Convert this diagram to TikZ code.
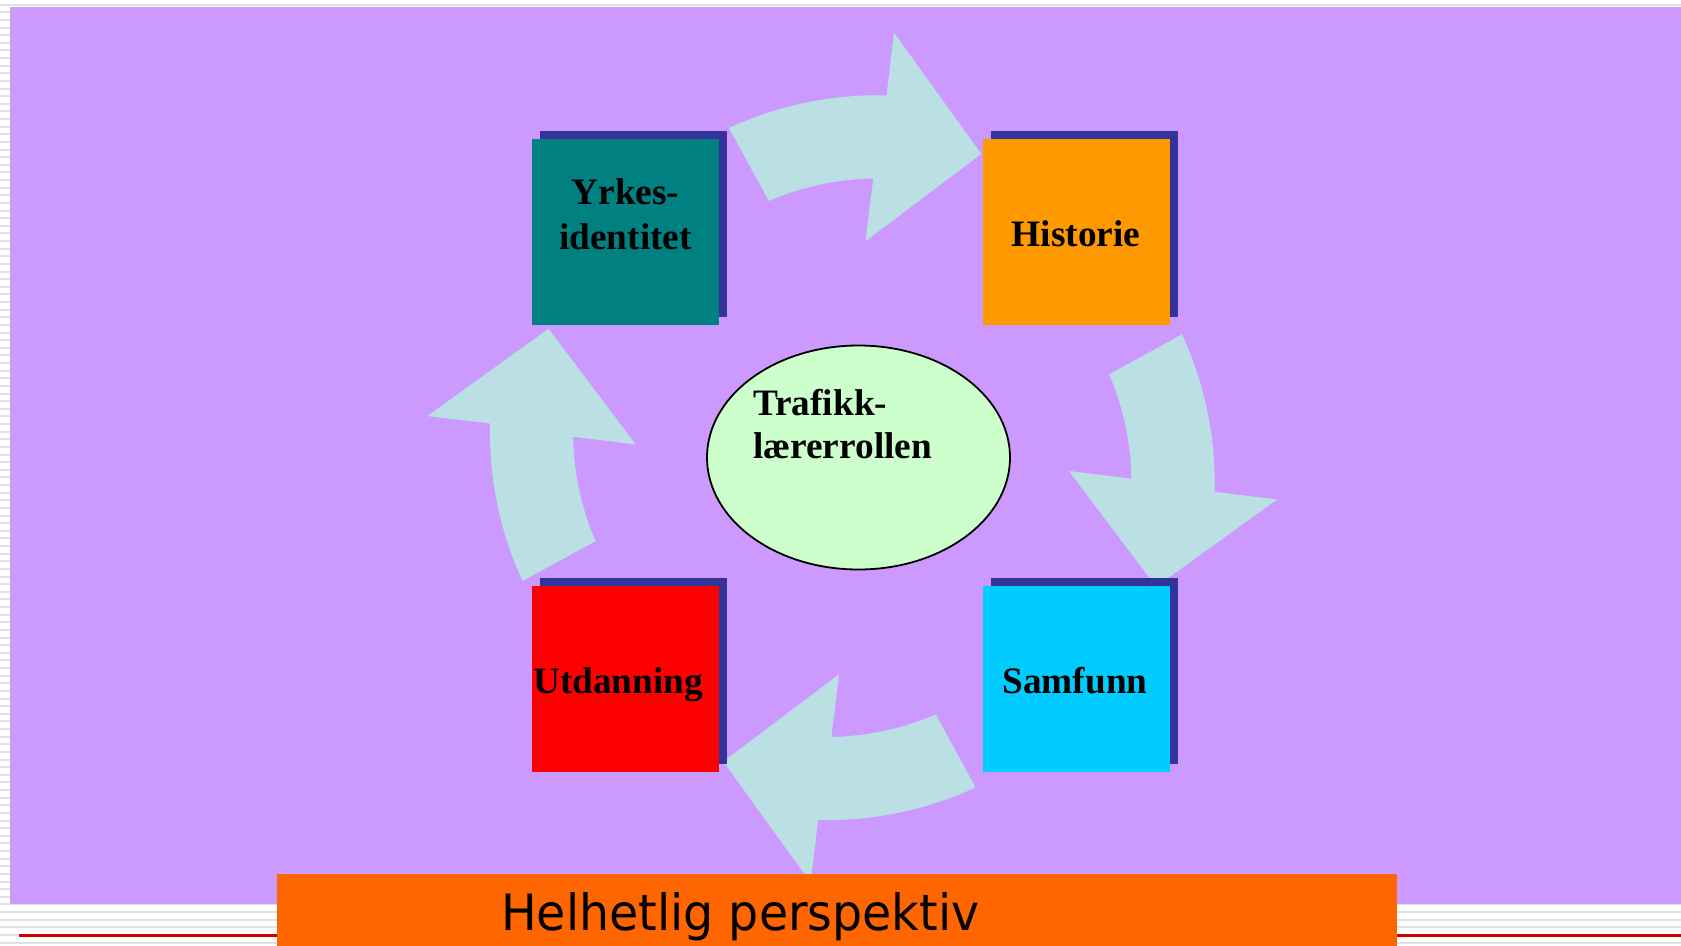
\documentclass[tikz,border=0pt]{standalone}
\usepackage{fontspec}
\usepackage{graphicx}
\setmainfont{Liberation Serif}
\newfontfamily\helfont{DejaVu Sans}
\usetikzlibrary{shapes.geometric, shadows}

\definecolor{lilla}{HTML}{CC99FF}
\definecolor{pilblaa}{HTML}{BBE0E3}
\definecolor{skygge}{HTML}{333399}
\definecolor{blaagronn}{HTML}{008080}
\definecolor{gul}{HTML}{FF9900}
\definecolor{cyanblaa}{HTML}{00CCFF}
\definecolor{lysgronn}{HTML}{CCFFCC}
\definecolor{oransje}{HTML}{FF6600}
\definecolor{stripe}{HTML}{E2E2E2}
\definecolor{rodlinje}{HTML}{D00000}

\begin{document}
\begin{tikzpicture}[x=1pt, y=-1pt,
    boks/.style={minimum width=187pt, minimum height=186pt, inner sep=0pt,
        drop shadow={shadow xshift=8pt, shadow yshift=8pt, fill=skygge, opacity=1}},
    tekst/.style={inner sep=0pt, font=\bfseries\fontsize{37.3}{45}\selectfont, align=center},
    pil/.style={fill=pilblaa}]
    \useasboundingbox (0,0) rectangle (1681,945);

    % bakgrunn med striper
    \fill[white] (0,0) rectangle (1681,945);
    \foreach \n in {0,...,123}
        \draw[stripe, line width=2pt] (0,{4.7+7.625*\n}) -- (1681,{4.7+7.625*\n});
    \draw[rodlinje, line width=3pt] (19,935) -- (1681,935);
    \fill[lilla] (10,7) rectangle (1681,904);

    % piler rundt midten
    \begin{scope}[shift={(852.3,457.7)}, y=1pt]
        \foreach \rot in {0,90,180,270}
            \fill[pil, rotate=\rot]
                plot[domain=110.5:84.6, samples=25] (\x:{352+12*(110.5-\x)/25.9})
                -- (84.4:427) -- (67:330) -- (86.5:217)
                -- plot[domain=85.7:108, samples=25] (\x:{280-10*(\x-85.7)/22.3}) -- cycle;
    \end{scope}

    \node[boks, fill=blaagronn] (yrkes) at (625.5,231.5) {};
    \node[boks, fill=gul] (historie) at (1076.5,231.5) {};
    \node[boks, fill=red] (utdanning) at (625.5,679) {};
    \node[boks, fill=cyanblaa] (samfunn) at (1076.5,679) {};

    \node[tekst, anchor=north] (yrkestekst) at (625.5,178) {Yrkes-\\identitet};
    \node[tekst, anchor=base] (historietekst) at (1076,246) {Historie};
    \node[tekst, anchor=base west] (utdtekst) at (533,693) {Utdanning};
    \node[tekst, anchor=base] (samfunntekst) at (1075,693) {Samfunn};

    \node[ellipse, draw, line width=1.8pt, fill=lysgronn, minimum width=303pt,
        minimum height=224pt, inner sep=0pt] (rolle) at (858.5,457.5) {};
    \node[tekst, align=left, anchor=north west, font=\bfseries\fontsize{37.3}{43}\selectfont]
        (rolletekst) at (753,389) {Trafikk-\\lærerrollen};

    % nederste felt
    \node[fill=oransje, anchor=north west, minimum width=1120pt, minimum height=80pt,
        inner sep=0pt] (helhet) at (277,874) {};
    \node[anchor=base west, inner sep=0pt, font=\helfont\fontsize{50}{60}\selectfont]
        (helhettekst) at (501,930) {\scalebox{0.95}[1]{Helhetlig perspektiv}};
\end{tikzpicture}
\end{document}
